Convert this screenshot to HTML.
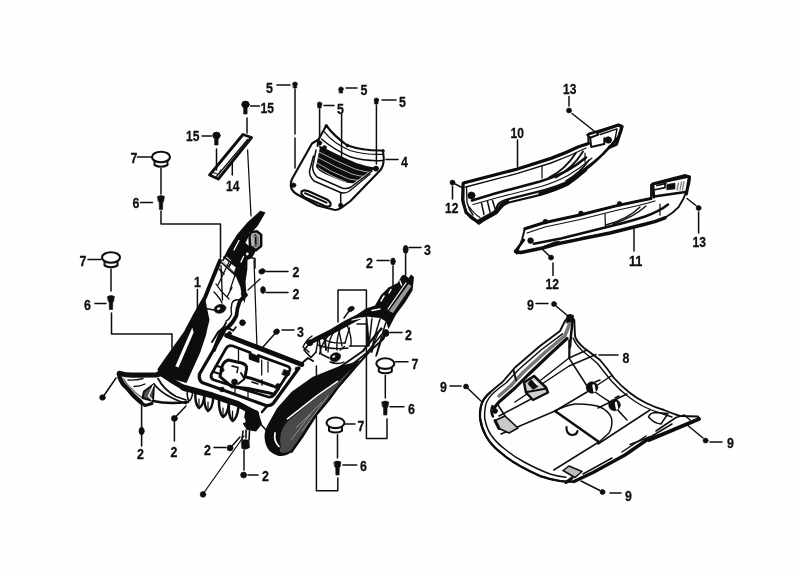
<!DOCTYPE html>
<html lang="en"><head><meta charset="utf-8"><title>Floor panel parts diagram</title>
<style>
html,body{margin:0;padding:0;background:#fdfefd;}
body{width:800px;height:576px;overflow:hidden;font-family:"Liberation Sans",sans-serif;}
svg{display:block}
svg path,svg line,svg polyline,svg polygon,svg ellipse,svg circle,svg rect{fill:none;stroke:#111;stroke-linecap:round;stroke-linejoin:round}
svg .f{fill:#0a0a0a;stroke:#0a0a0a;stroke-width:.6}
svg .w{fill:#fdfefd}
svg .g{fill:#8a8a8a;stroke:none}
svg .k{fill:#0a0a0a;stroke:none}
svg .wl{stroke:#fdfefd}
svg .gl{stroke:#777}
svg text{font-family:"Liberation Sans",sans-serif;font-weight:bold;fill:#111;stroke:#111;stroke-width:.3}
</style></head><body>
<svg width="800" height="576" viewBox="0 0 800 576">
<rect x="0" y="0" width="800" height="576" style="fill:#fdfefd;stroke:none"/>
<defs><filter id="soft" x="0" y="0" width="100%" height="100%" filterUnits="userSpaceOnUse"><feGaussianBlur stdDeviation="0.55"/></filter></defs>
<g filter="url(#soft)">
<g id="p01a">
<!-- main panel: left horn + wedge + wing -->
<!-- horn black band -->
<path d="M260.3 210.8 L265.5 212.5 L257.7 226 L249.5 234.7 L245.5 243 L249 246 L256 250.5 L252 258 L247.5 260 L247.3 269.4 L245.5 281.6 L246.4 293.8 L244.5 303 L242 297 L240.3 286.8 L235 274.6 L229 268 L222 260.5 L228.2 248.6 L236.9 234.7 L247.3 222.5 Z" class="k"/>
<path d="M234 250 L239 240.500 M250 232.500 L250.300 242 M241 262 L243.500 256.500 M240 228 L247 221" stroke-width="1.38" class="wl"/>
<path d="M223 261.500 L228 266 L231.500 261 L226.500 256.500 Z M229.500 267.500 L234 272 L236 267 L232 263 Z" style="fill:#fdfefd;stroke:none"/>
<!-- bracket -->
<path d="M250.8 232.3 L256.8 231.3 L261.2 234.7 L261.2 246 L256 250.3 L250 246 L249.500 236 Z" style="fill:#b4b4b4" stroke-width="2.50"/>
<path d="M255.500 235 L255.800 246" stroke-width="2.00"/>
<path d="M253 236 L258 236.5 L258.3 244.5 L254 246" stroke-width="1.50" class="gl"/>
<circle cx="247.3" cy="254" r="1.4" style="fill:#fdfefd;stroke:none"/>
<path d="M252 258 L255 258.5 L255 268" stroke-width="1.50"/>
<!-- ladder -->
<path d="M224 257 L238 268 M221.5 262.5 L236 276 M219 269 L224 274" stroke-width="1.62"/>
<path d="M229 262 L218 285 M236 272 L230 290" stroke-width="1.25"/>
<!-- left outer edge -->
<path d="M220 260.5 L212.5 278.8 L205 297.5 L195 315 L186 332 L170 354.5 L159.5 369.5" stroke-width="3.88"/>
<!-- inner thin curve from band bottom -->
<path d="M246 295 Q241 299 239.700 301.500 Q237 308 236.500 315.600 Q233 323 227 328 L221 332 L214 350" stroke-width="3.75"/>
<path d="M239 300 Q234 299 232 303 Q230.500 309 231.500 314 Q230 319 226 321" stroke-width="1.38"/>
<path d="M221 265.600 L222.500 300 M232 287.500 L227 297 M216 284 Q221 292 229 299 M214 292 Q220 298 222 303" stroke-width="1.38"/>
<circle cx="243.8" cy="293.8" r="2.6" class="f"/>
<circle cx="242.5" cy="322.5" r="2.8" class="f"/>
<!-- dark oval -->
<ellipse cx="220" cy="308.8" rx="6" ry="4.3" transform="rotate(-15 220 308.8)" class="f"/>
<ellipse cx="218.6" cy="308.6" rx="1.8" ry="1.2" transform="rotate(-20 218.6 308.6)" style="fill:#fdfefd;stroke:none"/>
<path d="M206 308.5 L214 310" stroke-width="1.50"/>
<!-- dark wedge -->
<path d="M207 308 L209.5 320 L207.5 328 L206 335 L200 353 L192.5 369.5 L186.5 383 L176 380 L167 378.5 L158 372 L159.5 369.5 L170 354.5 L186 332 L195 315 L205 297.5 Z" class="k"/>
<path d="M192.300 327.500 L193.600 332.500 L178.500 367.500 L175.300 366.300 Z" style="fill:#fdfefd;stroke:none"/>
<!-- wing -->
<path d="M119.500 373.500 Q127 375.500 134 375.200 L156.400 374.800 L168 372.500" stroke-width="5.25"/>
<circle cx="119.500" cy="374" r="2.600" class="f"/>
<path d="M119.500 377 Q122 384 127 388 Q133 396 140.600 402" stroke-width="4.50"/>
<path d="M123.500 378.500 Q127 385 131 388 Q136 394 142 397.500" stroke-width="1.50" class="gl"/>
<path d="M128 380 Q136 380.500 143 378.500 M134 386.500 Q140 386.500 145 384" stroke-width="1.38"/>
<path d="M154 384 L144 391.500 L142.500 398 L153 401 Z" style="fill:#555;stroke:#111" stroke-width="2.00"/>
<path d="M154 384 L148.500 396 L153 401" stroke-width="1.38" class="wl"/>
<path d="M140.600 402 L145 405.500 L152 403.500" stroke-width="3.00"/>
<path d="M158 378.500 Q164 390 176 396.500 L186 400" stroke-width="1.75"/>
<path d="M154 384 Q163 396 186 403.500" stroke-width="1.75"/>
<path d="M153 401 Q168 404.500 188 402" stroke-width="2.50"/>
<!-- thick line along wedge bottom -->
<path d="M160 372.500 L172.500 381 L185 388.500" stroke-width="5.50"/>

</g>
<g id="p01b">
<!-- main panel: tray -->
<!-- outer frame -->
<path d="M224 332 L199.500 374 Q198.500 380 202 382.500 L266 405.500 Q270.500 406.500 273.500 403 L299 368" stroke-width="3.25"/>
<!-- top rail -->
<path d="M226.700 335.500 L301.700 364.500" stroke-width="5.00"/>
<path d="M221 331 L226 327 L232 330 M301 364 L308 358 L313 361" stroke-width="2.00"/>
<!-- inner frame -->
<path d="M250 352.500 L233 346 Q228.500 344.500 226 348.500 L211.500 374 Q210 378.500 214 380 L268.500 397 Q272 397.500 274.500 394.500 L289.500 371 Q291 367.500 287.500 366.200 L258.300 355.600" stroke-width="2.75"/>
<path d="M250 352.500 L250 358.500 L258.300 361.500 L258.300 355.600" stroke-width="2.50"/>
<!-- bracket -->
<path d="M221.700 368 Q223 361.500 228.300 360 L241.700 363 Q246.500 364.500 246.700 368 L245 376.700 L251.700 378.500 L273 386 L278.500 388.500 L274 394" stroke-width="3.00"/>
<path d="M221.700 368 L220 376.700 L231.700 386.700 L248 388.500 L271.700 393.500" stroke-width="3.00"/>
<path d="M232 366 L238 367.500 L237 372.500 M252 382 L258 384 M262 385 L262 380" stroke-width="1.50"/>
<!-- thin verticals -->
<path d="M238.500 348 L238.500 363 M261.700 360 L261.700 375 M268 361.500 L268 372 M248 388 L248 398 M235 386 L235 394" stroke-width="1.25"/>
<!-- dots -->
<circle cx="234.5" cy="382" r="3" class="f"/>
<circle cx="242.5" cy="323" r="2.6" class="f"/>
<circle cx="310" cy="343" r="2.8" class="f"/>
<circle cx="287.5" cy="373.5" r="2.4" class="f"/>
<circle cx="278" cy="386" r="2.4" class="f"/>
<circle cx="222" cy="370" r="2" class="f"/>
<circle cx="222" cy="389.500" r="2.4" class="f"/>
<circle cx="229.5" cy="333.5" r="2" class="f"/>
<circle cx="297" cy="369" r="2" class="f"/>
<!-- lines from horn to tray corner -->
<path d="M226 322.500 Q224 328 218.500 331.500 L212 342" stroke-width="2.00"/>
<path d="M236 327 L233 331" stroke-width="1.62"/>

<path d="M250.500 353 L257.800 356 L257.800 361 L250.500 358 Z" class="f"/>
<path d="M284 369.500 L290 371.500 L287.500 376.500 L282 374.500 Z" class="f"/>
<path d="M217 366 L222 367.500 M214 372 L220 374" stroke-width="2.00"/>
<path d="M241 373 L244.500 379 L238 384" stroke-width="2.00"/>

</g>
<g id="p01c">
<!-- main panel: right horn -->
<!-- under-structure thin lines -->
<path d="M330 334 Q322 342 319.500 354 M339 331 Q341 340 342 346 M349.500 328 Q347 336 345 343 M367.500 325 L369 346 M381 328 Q374 340 372 352 M386 330 Q380 342 377 354 M357 324 L367 324" stroke-width="1.38"/>
<path d="M349.500 346 L366 346" stroke-width="1.38"/>
<path d="M312 336 Q306 340 303 347 L309 352 M318 340 L316 352 M324 337 L326 350" stroke-width="1.50"/>
<path d="M335 330 Q328 340 328 352 M341 327 Q336 338 337 350 M347 325 Q352 336 351 346 M322 338 Q330 344 345 343 M318 345 Q330 350 348 348" stroke-width="1.38"/>
<path d="M366.700 317 L368 346 M380 319 Q375 334 371 352 M386 322 Q381 338 376 356 M372 317 Q371 330 369.500 340" stroke-width="1.50"/>
<!-- black mass -->
<path d="M405 274.800 L402 275.500 L397.500 283 L388.500 287.500 L381 295 L375 305.500 L366 308.500 L357 314.500 L345 320.500 L330 329.500 L315 337 L307.500 341.500 L310 344.500 L318 341 L330 335.500 L345 327.500 L357 321 L366.700 316.500 L380 318 L386 321.500 L388.500 329 L396 314.500 L405 302.500 L412.500 290.500 L414 277 L411 274.500 L408.500 278 Z" class="k"/>
<!-- hatched strip -->
<path d="M408.500 284 L411.500 286 L393 313 L389 311 Z" style="fill:#999;stroke:none"/>
<path d="M406 283 L388 309" stroke-width="1.25" class="wl"/>
<!-- white nicks inside mass -->
<path d="M384 296 L381 301 M391 289.500 L389 293 M372 310.500 L380 309 M400 281 L401.500 285" stroke-width="1.50" class="wl"/>
<path d="M352 320 Q362 317 372 318" stroke-width="1.25" class="wl"/>
<!-- left end blob -->
<ellipse cx="309.500" cy="342.500" rx="3.200" ry="2.500" transform="rotate(-30 309.5 342.5)" class="f"/>
<!-- dark oval between horn and crescent -->
<ellipse cx="335.300" cy="357.200" rx="5.500" ry="4.300" transform="rotate(-25 335.3 357.2)" class="f"/>
<ellipse cx="333.800" cy="356.600" rx="1.700" ry="1" transform="rotate(-30 333.8 356.6)" style="fill:#fdfefd;stroke:none"/>
<path d="M310 343 L304 350 L311 357.500 L316 352 M319 338 L321 354 L329 358 M325 336 L326 350" stroke-width="1.62"/>
<path d="M340 350 L344.500 346.600 M330 362 Q338 365 344 362" stroke-width="1.38"/>

</g>
<g id="p01d">
<!-- main panel: right crescent (footboard side) -->
<!-- upper narrow band: 3 lines -->
<path d="M340 367 L363 351 L376.400 334 L381.600 328.700" stroke-width="2.12"/>
<path d="M350 366 L366 353.500 L381.600 334.800" stroke-width="1.62"/>
<path d="M339.600 385.400 L354 368.800 L370 351 L383.300 339 L386 332" stroke-width="2.12"/>
<!-- black crescent -->
<path d="M341 365.500 L312.500 377 L291.700 391.700 L277 408.300 L268.750 423 Q264 431 264.600 437.500 Q265 445 268.750 450 Q273 454.500 279 456 Q286 456.500 291.700 452 L302 437.500 L316.700 414.600 L329 400 L339.600 385.400 L354 368.800 L360 360 L350 363.500 Z" class="k"/>
<!-- gray hatched lower band -->
<path d="M289 420 L316.700 397.300 L337.500 382.800 L348 372 L352 369 L339 384.500 L328 398.800 L315.500 413.500 L301 436 L291 450.500 Q285 454.500 279.500 452 Q281.500 446 280 440 Q280 428 289 420 Z" style="fill:#484848;stroke:none"/>
<path d="M291.700 452 L302 437.500 L316.700 414.600 L329 400 L339.600 385.400 L354 368.800" stroke-width="1.88"/>
<path d="M296 428 L322 402 M302 431 L328 396 M291 440 L310 415" stroke-width="0.75" class="wl" style="opacity:.55"/>
<!-- white sliver -->
<path d="M287.500 418.800 L316.700 395.800 L337.500 381.300" stroke-width="1.62" class="wl"/>
<path d="M275 433 Q273.500 441 279 446.500" stroke-width="1.75" class="wl"/>

</g>
<g id="p01e">
<!-- main panel: band under tray + ribs -->
<path d="M183 387.500 L212.500 395.500 L237.500 403.800 L256 413.800" stroke-width="6.00"/>
<path d="M246 406.500 L258 411 L262 424 L256 431.500 L247 430 L243 424 Z" class="k"/>
<ellipse cx="243.500" cy="420" rx="1.800" ry="3" transform="rotate(-20 243.5 420)" style="fill:#fdfefd;stroke:none"/>
<!-- ribs -->
<path d="M195.500 391 Q194.500 404 199 408 Q203.500 406 204.500 394" stroke-width="2.50"/>
<path d="M204.500 394 Q203.500 407 208 411 Q212.500 409 213.500 396.500" stroke-width="2.50"/>
<path d="M219 399 Q218.500 412 223 417 Q227.500 415 229 403" stroke-width="2.50"/>
<path d="M229 403 Q228 416 232.500 421 Q237 419 238.500 407" stroke-width="2.50"/>
<path d="M188 388 Q186 396 189 401 Q192 400 193 390" stroke-width="1.62"/>
<path d="M199 399 L199 406 M208 402 L208 409 M223 408 L223 415 M232.5 411 L232.5 419" stroke-width="1.25"/>
<!-- white gap then crescent joint -->
<path d="M257 420 L266 430" stroke-width="1.50"/>
<path d="M262 412 L268 405" stroke-width="2.50"/>

<path d="M243 431 L242 440 M249.500 431 L249 440 M246 430 L246 438" stroke-width="1.62"/>

</g>
<g id="p04">
<!-- part 4: inlet cover -->
<path d="M326.3 125.5 Q334 136 347.5 145.5 Q364 151 383 150.5 L383.8 159 Q383.5 166 380.5 170 L350.5 201 L341.5 207.7 Q338 210.5 334 209.8 L317.5 205.5 L296.5 194 Q291.5 191 290.8 186 Q290.5 182.5 292 179 L312 143.5 L318.5 139.5 Z" class="w" stroke-width="2.12"/>
<!-- visor band arcs -->
<path d="M324.4 131.8 Q333 143 350 150.5 Q366 155 382.5 154.3" stroke-width="1.25"/>
<path d="M321.5 139 Q333 149 350 156.8 Q366 161.5 382.8 160.5" stroke-width="1.50"/>
<path d="M318.7 139.3 L317.5 146" stroke-width="2.00"/>
<!-- black mesh -->
<path d="M320 146.8 Q336 155 356 164 Q366 167.5 375.5 168.2 L366 174 L353.5 183.2 Q348 183.5 343.5 181.8 L325 174 Q318 170.5 316 166.8 Z" class="k"/>
<path d="M320 146.8 Q336 155 356 164 Q366 167.5 377 169" stroke-width="2.00"/>
<path d="M319 152 Q336 161 355 169 Q365 172 371 172.500 M318 157.500 Q334 166.500 352 174 Q360 176.500 366 176.500 M317 163 Q331 172 349 179 L359 180.500 M318.500 168 Q330 176 346 182" stroke-width="0.69" class="wl"/>
<!-- inner frames -->
<path d="M316 150 L312.6 167 Q312.6 172.5 317 177 L342 188 Q347 189.5 351 187 L372 171" stroke-width="1.50"/>
<path d="M313.5 156 L309.5 171 Q309.3 176.5 314 181 L340.5 192.5 Q345.5 194 349.5 191 L370 174" stroke-width="1.50"/>
<path d="M340.7 192.5 L340.7 205" stroke-width="1.50"/>
<!-- handle slot -->
<path d="M301.5 191.5 Q303 189.5 308 191 L327 199.5 Q331.5 202.5 330.5 205.5 Q329 207.3 325 206 L305 197.5 Q300.5 194.5 301.5 191.5 Z" stroke-width="2.12"/>
<path d="M305 193.2 L326.5 202.6" stroke-width="2.00"/>
<!-- dots -->
<circle cx="293.6" cy="185.2" r="2.3" class="f"/>
<circle cx="340.8" cy="205.6" r="2.3" class="f"/>
<circle cx="376" cy="168.6" r="2.6" class="f"/>
<circle cx="319.5" cy="143" r="2.3" class="f"/>
<circle cx="324.5" cy="147.5" r="2" class="f"/>
<circle cx="347.5" cy="145.5" r="1.5" class="f"/>
<circle cx="326.3" cy="126" r="1.4" class="f"/>
<circle cx="383" cy="150.8" r="1.3" class="f"/>

</g>
<g id="p08">
<!-- part 8: under cover -->
<path d="M569.5 316 L565 321 L560 331 L540 346 L515 367.500 L502.500 382 Q495 388 490 392.500 Q482.5 399 481 406 Q479.5 413 480.2 419 Q481.5 428 486 436 Q491 445 500 452 Q509 460 520 466 Q530 471.5 540 476 Q550 479.5 560 481 Q568 482 574 481.5 L593 472.5 L625 455 L649.5 438 L672 431 L699 418.6 L698 416.5 L680 416 Q672 413.5 664 410 Q654 407 646 403 Q637 398.5 630 393 Q621 386 614 378 Q607 368 600 360 Q591 353 584 348 Q576 341 575 336 L574.3 320 Z" class="w" stroke-width="1.88"/>
<!-- tip blob -->
<path d="M567 315.5 Q570 313 573.5 315.5 L574 322 L566.5 323 Z" class="f"/>
<!-- left band -->
<path d="M562.500 333.800 L541 350 L518.800 369.500 L506 383 Q499 388 494.500 392 Q487 398.500 485.500 406 Q484 414 485 420 Q487 429 491 435 Q497 443.500 506 450 Q514 456.500 524 462 Q538 469.500 550 474 Q558 476.500 566 477.300" stroke-width="1.50"/>
<path d="M569.500 324 L565 335.500 L545 352.500 L523 372.500 L511 385.500 L499 396" stroke-width="3.50" class="gl"/>
<path d="M567 338.500 L549 355 L528 375 L515 388 L499 402 L494 408" stroke-width="3.12"/>
<path d="M572.500 322.500 L571 335 L570 347" stroke-width="2.50"/>
<path d="M570 345 L569.500 358" stroke-width="1.50"/>
<path d="M513.500 370 L516 380" stroke-width="2.00"/>
<!-- heavy outer lower-left -->
<path d="M490 392.500 Q482.500 399 481 406 Q479.500 413 480.200 419 Q481.500 428 486 436 Q491 445 500 452 Q509 460 520 466 Q530 471.500 540 476 Q550 479.500 560 481 Q568 482 574 481.500" stroke-width="2.25"/>
<!-- bottom edge thick -->
<path d="M574 481.500 L593 472.500 L625 455 L649.500 438" stroke-width="3.50"/>
<path d="M583 474 L612 458 M622 452 L646 436" stroke-width="1.50"/>
<path d="M649 440 L699 419" stroke-width="4.00"/>
<path d="M656 431 L676 417.5 L684.5 415 L690 420" stroke-width="1.62"/>
<path d="M630 444.5 L652 436 L672 424" stroke-width="1.50"/>
<!-- right edge inner parallel -->
<path d="M573 338 Q576 345 582 350.500 Q590 357 597.500 363.500 Q604 372 611.500 381 Q619 389.500 627.500 396 Q635 402 643.500 406.500 Q652 410.500 661.500 413.500 L672 417" stroke-width="1.38"/>
<!-- right inner line -->
<path d="M569 340 L569 358 Q578 372 587 386 Q600 396 613 404 Q620 413 627 420" stroke-width="1.50"/>
<!-- cross lines -->
<path d="M541 380 L569 358 L587 350" stroke-width="1.50"/>
<path d="M515 402 L569 366 L596 354.500" stroke-width="1.50"/>
<path d="M499 416 L533 398" stroke-width="1.50"/>
<path d="M501 434 L555 411 L587 392 L611 376" stroke-width="1.50"/>
<path d="M598 408 L627 394" stroke-width="1.50"/>
<path d="M595 382 L600 380 M615 398 L619 396" stroke-width="1.50"/>
<path d="M598 444 L650 410" stroke-width="1.50"/>
<path d="M553.800 470 L598 442.500" stroke-width="1.50"/>
<!-- dome -->
<path d="M555 411 Q565 405.500 575 404 Q589 403.500 599 406.500 Q609 411 611.500 418 Q613 426 609 433 L599 442 Z" stroke-width="1.50"/>
<path d="M555 411 L599 442" stroke-width="2.50"/>
<path d="M566.500 427 Q566 433.500 571.500 435 Q577 435 577.500 431" stroke-width="2.12"/>
<!-- clip block -->
<path d="M524 382.500 L534 376 L546 387.500 L548 392.500 L533 400 L526 392.500 Z" style="fill:#d0d0d0" stroke-width="2.50"/>
<path d="M531 379.500 L538 386.500 L533 389.500 L528 384 Z" class="f"/>
<path d="M534.500 381.500 L537.500 384.500" stroke-width="1.75" class="wl"/>
<path d="M527 392 L546.500 388.500" stroke-width="2.00"/>
<!-- round clips -->
<circle cx="592" cy="387.500" r="5.800" class="f"/><path d="M593.500 385.500 L594.500 391" stroke-width="2.50" class="wl"/>
<circle cx="614.500" cy="405" r="5.800" class="f"/><path d="M616 403 L617 408.500" stroke-width="2.50" class="wl"/>
<!-- pads -->
<path d="M495 420.500 L505 416 L518 428 L509 433 L499 428.500 Z" stroke-width="1.62" style="fill:#c8c8c8"/><path d="M495 420.500 L499 428.500" stroke-width="3.00"/>
<path d="M492.500 406 Q490 411 493 416.500" stroke-width="2.50"/>
<circle cx="495" cy="411" r="2.500" class="f"/>
<path d="M498 405 L505 416" stroke-width="1.62"/>
<path d="M648.5 417 Q650 412.5 656 412.5 L668 413.5 L661 424 Q654 423.5 648.5 417 Z" stroke-width="1.50"/>
<path d="M563 470.5 L569 466 L582 471.5 L575 477.5 Z" stroke-width="1.50" style="fill:#bbb"/>
<path d="M566 482.5 L572 478" stroke-width="3.00"/>

</g>
<g id="p10">
<!-- part 10: left side cover -->
<path d="M463.5 183 L517.5 169 L551 158.4 Q566 153 578 147 L588.4 143.5 L588.4 133.6 L617.6 125.3 L622.3 127 Q621 134 616.5 139 Q610 147 603 154 Q594 162 585 168.5 Q576 176 567 182 Q556 187 544.5 190 L508.5 199 Q501 201 498 204.5 L495 211 L477 221 Q472 220 469 216 Q464 208 463.5 200 Z" class="w" stroke-width="2.00"/>
<!-- thick top edge -->
<path d="M463.5 183 L517.5 169 L551 158.4 Q566 153 578 147 L588.4 143.5" stroke-width="3.25"/>
<path d="M465.7 187 L517.5 173.4 L551 163 Q570 156 586 148" stroke-width="1.38"/>
<!-- lower band lines -->
<path d="M472 200.500 L495 193.500 L540 181.500 Q555 177 567 170.700 Q577 165 586 157.500" stroke-width="2.62"/>
<path d="M478.800 222.500 L482.500 220 L496 212.500 L500 207.500 Q503 203.500 508.500 201.500 L540 194 Q556 189.500 567 184 Q577 177 585 170" stroke-width="4.00"/>
<path d="M509.500 200.600 L538 193.600" stroke-width="1.12" class="wl"/>
<path d="M585 170 Q596 161.500 603 154 Q611 146 616.500 139" stroke-width="2.50"/>
<path d="M473 204.500 L498 197.500 L541 186.500 Q556 182 568 175.500 Q580 168.500 592 158" stroke-width="1.12"/>
<!-- arcs -->
<path d="M549 177.5 Q565 170 576 152.7" stroke-width="1.88"/>
<path d="M556 177.5 Q573 168 583 151.6" stroke-width="1.88"/>
<path d="M542 166 L542 178" stroke-width="1.25"/>
<path d="M566 181 Q581 172 589 160" stroke-width="1.62"/>
<path d="M585 153 L585 162" stroke-width="1.25"/>
<!-- mount block -->
<path d="M587.200 135 L596.300 132 L598.300 134.600 L590.200 137.700 Z" class="w" stroke-width="2.00"/>
<path d="M590.200 137.700 L591.200 147 L604.300 144 L604.300 138.200" stroke-width="2.00"/>
<path d="M598.300 132 L618.400 125 L622 126.600 L619.400 135 L616.400 144.200 L609.300 147.200" stroke-width="3.25"/>
<path d="M600.300 134.500 L617 128.800 L614.500 142" stroke-width="1.38"/>
<circle cx="608.300" cy="140" r="3.300" class="f"/>
<!-- left end details -->
<path d="M463 183.800 L462.500 200 L466 212.500 L478.800 223" stroke-width="3.00"/>
<path d="M466.500 187 L467 202.500 Q469 210 473 215" stroke-width="1.38"/>
<circle cx="471.500" cy="195.500" r="3.600" class="f"/>
<path d="M481.500 203 L484 214.500 M487.500 201.500 L490 212 M492.500 200.500 L495 208.500" stroke-width="1.50"/>
<path d="M469.500 207 Q474 214 480 217.500" stroke-width="1.25"/>

</g>
<g id="p11">
<!-- part 11: right side cover -->
<path d="M524.8 228.8 L544 222.7 L579.8 215 L618 205.4 L651 198.5 L651 184.8 L689.8 176.5 Q690 184 687 190 Q684 199 678.8 206.8 Q673 213 665 217.8 Q655 222 643 224.6 L610 233 L582.5 238.4 L555 242.5 Q547 245.5 541 248 L516.5 253.5 L522 239.8 Z" class="w" stroke-width="1.88"/>
<path d="M524.8 228.8 L544 222.7 L579.8 215 L618 205.4 L651 198.5" stroke-width="3.00"/>
<path d="M527 233 L545 227 L580 219.5 L618 210 Q640 205.5 655 201" stroke-width="1.25"/>
<path d="M533.800 243.800 L561 238.500 L583 233 L611 226 Q630 221.500 645 216.500 Q660 211 668 204.500" stroke-width="2.50"/>

<!-- mount block -->
<path d="M653.700 197 L652.700 184 L685.400 175.600 L689.400 177 L686.400 194" stroke-width="3.12"/>
<path d="M653.700 190 L665 187.700 L665 183.500 M657 185.500 L666 183.300" stroke-width="1.75"/>
<path d="M654 196.500 L685.400 192" stroke-width="2.75"/>
<path d="M667 184.500 L675 183 L675 189 L667 189.800 Z" class="f"/>
<path d="M678.500 183 L677 190 M681.500 182 L680 190 M684 181.500 L682.500 190" stroke-width="1.25" class="gl"/>
<!-- arcs -->
<path d="M606 225 Q628 219 640 207" stroke-width="1.38"/>
<path d="M613 224 Q634 217 646 206" stroke-width="1.38"/>
<path d="M605 214 L605.5 228 M660 204 L660 215" stroke-width="1.25"/>
<!-- knobs -->
<circle cx="545.4" cy="221.6" r="2.400" class="f"/><circle cx="581" cy="213.400" r="2.400" class="f"/><circle cx="619.600" cy="203.800" r="2.400" class="f"/>
<!-- left end -->
<circle cx="530.600" cy="240.600" r="2.900" class="f"/>
<path d="M515.500 251.500 L521 252.500 L542.500 248 L557.500 243.800 L582.500 238.500 L610 233 L643 224.800 Q655 222 665 217.800" stroke-width="3.50"/>
<path d="M523.800 240 L515.500 251" stroke-width="2.75"/>
<path d="M560 241 L580 236.800 M590 234.500 L606 231" stroke-width="1.00" class="wl"/>

</g>
<g id="p14">
<!-- part 14: bar -->
<path d="M243 134.5 L251.5 137.5 L218.3 179 L209.6 175 Z" class="w" stroke-width="2.88"/>
<path d="M247.6 139.5 L216.5 176.5" stroke-width="1.25"/>
<path d="M213 172.5 L218.5 174.5 L221 170" stroke-width="1.25"/>

</g>
<g id="leaders">
<path d="M137.5 157 L151 157" stroke-width="1.50"/>
<path d="M154.5 159 L154.5 165 Q161 168.5 167.5 165 L167.5 159" class="w" stroke-width="2.00"/><ellipse cx="161" cy="157" rx="9" ry="5.3" class="w" stroke-width="2.12"/>
<path d="M161 168.5 L161 194" stroke-width="1.50"/>
<path d="M157.6 196.5 Q161 194.5 164.4 196.5 L163.6 201.5 L162.8 202 L162.6 209.5 L159.4 209.5 L159.2 202 L158.4 201.5 Z" class="f"/>
<path d="M140.5 202.5 L152.5 202.5" stroke-width="1.50"/>
<path d="M161 211 L161 224 L220.5 224 L220.5 258" stroke-width="1.50"/>
<path d="M88 259.5 L101 259.5" stroke-width="1.50"/>
<path d="M104.5 259.5 L104.5 265.5 Q111 269.0 117.5 265.5 L117.5 259.5" class="w" stroke-width="2.00"/><ellipse cx="111" cy="257.5" rx="9" ry="5.3" class="w" stroke-width="2.12"/>
<path d="M111 269 L111 291" stroke-width="1.50"/>
<path d="M107.6 296.5 Q111 294.5 114.4 296.5 L113.6 301.5 L112.8 302 L112.6 309.5 L109.4 309.5 L109.2 302 L108.4 301.5 Z" class="f"/>
<path d="M95 303.6 L106 303.6" stroke-width="1.50"/>
<path d="M111.5 313 L111.5 334 L172 334 L172 350" stroke-width="1.50"/>
<ellipse cx="245.5" cy="104.5" rx="3.8" ry="3.42" class="f"/><rect x="243.9" y="104.5" width="3.2" height="9.5" class="f"/>
<path d="M250.5 106 L259.5 106" stroke-width="1.50"/>
<path d="M247 118 L247 133" stroke-width="1.50"/>
<path d="M247.6 150 L251 216" stroke-width="1.25"/>
<ellipse cx="216.5" cy="135.5" rx="3.8" ry="3.42" class="f"/><rect x="214.9" y="135.5" width="3.2" height="9.5" class="f"/>
<path d="M202 136 L211.5 136" stroke-width="1.50"/>
<path d="M216.5 149 L216.5 170" stroke-width="1.50"/>
<path d="M232.3 162 L232.3 175" stroke-width="1.50"/>
<path d="M277 85 L290 85" stroke-width="1.50"/>
<ellipse cx="295" cy="84" rx="2.3" ry="2.07" class="f"/><rect x="293.4" y="84" width="3.2" height="4" class="f"/>
<path d="M295 89 L295 134" stroke-width="1.50"/>
<path d="M295 138 L295 168" stroke-width="1.50"/>
<path d="M346 88 L357 88" stroke-width="1.50"/>
<ellipse cx="341" cy="89" rx="2.3" ry="2.07" class="f"/><rect x="339.4" y="89" width="3.2" height="4" class="f"/>
<path d="M341.6 114 L341.6 156" stroke-width="1.50"/>
<path d="M324 105.6 L334 105.6" stroke-width="1.50"/>
<ellipse cx="319.6" cy="104" rx="2.3" ry="2.07" class="f"/><rect x="318.0" y="104" width="3.2" height="4" class="f"/>
<path d="M319.6 109 L319.6 138" stroke-width="1.50"/>
<path d="M382 100 L396 100" stroke-width="1.50"/>
<ellipse cx="376.4" cy="100" rx="2.3" ry="2.07" class="f"/><rect x="374.79999999999995" y="100" width="3.2" height="4" class="f"/>
<path d="M376.4 105 L376.4 164" stroke-width="1.50"/>
<path d="M386 159.4 L398 159.4" stroke-width="1.50"/>
<path d="M569 96.5 L569 106" stroke-width="1.50"/>
<ellipse cx="569" cy="110.5" rx="2.5" ry="2.5" class="f" transform="rotate(0 569 110.5)"/>
<path d="M572 113.5 L596 132.5" stroke-width="1.50"/>
<path d="M517.5 140 L517.5 167" stroke-width="1.50"/>
<ellipse cx="452.5" cy="182.5" rx="2.5" ry="2.5" class="f" transform="rotate(0 452.5 182.5)"/>
<path d="M452.5 186 L452.5 199" stroke-width="1.50"/>
<path d="M455 184 L463 188" stroke-width="1.50"/>
<path d="M634 229 L634 251" stroke-width="1.50"/>
<ellipse cx="551" cy="257.6" rx="2.5" ry="2.5" class="f" transform="rotate(0 551 257.6)"/>
<path d="M553 263 L553 275.5" stroke-width="1.50"/>
<path d="M541 248 L549 255.5" stroke-width="1.50"/>
<ellipse cx="698.6" cy="208" rx="2.5" ry="2.5" class="f" transform="rotate(0 698.6 208)"/>
<path d="M698.6 212 L698.6 233" stroke-width="1.50"/>
<path d="M687 198.5 L696 205.5" stroke-width="1.50"/>
<path d="M536 303.6 L548 303.6" stroke-width="1.50"/>
<ellipse cx="554" cy="304" rx="2.5" ry="2.5" class="f" transform="rotate(0 554 304)"/>
<path d="M556 306 L568 316" stroke-width="1.50"/>
<path d="M599 355 L618 355" stroke-width="1.50"/>
<path d="M710 442 L722 442" stroke-width="1.50"/>
<ellipse cx="705.6" cy="440.6" rx="2.5" ry="2.5" class="f" transform="rotate(0 705.6 440.6)"/>
<path d="M686 424 L703 438" stroke-width="1.50"/>
<path d="M450 386 L461 386" stroke-width="1.50"/>
<ellipse cx="466" cy="386.5" rx="2.5" ry="2.5" class="f" transform="rotate(0 466 386.5)"/>
<path d="M468 388.5 L482 402" stroke-width="1.50"/>
<path d="M610 493 L621 493" stroke-width="1.50"/>
<ellipse cx="602.5" cy="492" rx="2.5" ry="2.5" class="f" transform="rotate(0 602.5 492)"/>
<path d="M581 481 L600 490.5" stroke-width="1.50"/>
<path d="M197.4 289.5 L197.4 315" stroke-width="1.50"/>
<ellipse cx="262" cy="271.4" rx="3.2" ry="2.6" class="f" transform="rotate(-20 262 271.4)"/>
<path d="M266 271.4 L288 271.4" stroke-width="1.50"/>
<ellipse cx="263" cy="290" rx="2.4" ry="3.4" class="f" transform="rotate(0 263 290)"/>
<path d="M266 292.4 L288 292.4" stroke-width="1.50"/>
<path d="M254 260 L257 348" stroke-width="1.25"/>
<path d="M260 279 L248 290" stroke-width="1.25"/>
<path d="M282 330 L294 330" stroke-width="1.50"/>
<ellipse cx="276.5" cy="331.7" rx="3" ry="2.6" class="f" transform="rotate(-30 276.5 331.7)"/>
<path d="M275 333.5 L263 347" stroke-width="1.50"/>
<path d="M377 260.4 L389 260.4" stroke-width="1.50"/>
<ellipse cx="393" cy="261.4" rx="2.3" ry="3.5" class="f" transform="rotate(0 393 261.4)"/>
<path d="M393 266 L393 286" stroke-width="1.50"/>
<path d="M409 247.4 L421 247.4" stroke-width="1.50"/>
<ellipse cx="405.6" cy="249.4" rx="2.5" ry="4" class="f" transform="rotate(0 405.6 249.4)"/>
<path d="M405.6 254 L405.6 275" stroke-width="1.50"/>
<ellipse cx="351" cy="309" rx="3.4" ry="2.4" class="f" transform="rotate(-30 351 309)"/>
<path d="M349 311 L344 318" stroke-width="1.50"/>
<path d="M390 332.6 L402 332.6" stroke-width="1.50"/>
<ellipse cx="386" cy="333" rx="3" ry="3.5" class="f" transform="rotate(0 386 333)"/>
<path d="M378.8 365.6 L378.8 371.6 Q385.3 375.1 391.8 371.6 L391.8 365.6" class="w" stroke-width="2.00"/><ellipse cx="385.3" cy="363.6" rx="9" ry="5.3" class="w" stroke-width="2.12"/>
<path d="M395.5 361.7 L408 361.7" stroke-width="1.50"/>
<path d="M385.3 375.5 L385.3 398" stroke-width="1.50"/>
<path d="M381.90000000000003 402.0 Q385.3 400.0 388.7 402.0 L387.90000000000003 407.0 L387.1 407.5 L386.90000000000003 415.0 L383.7 415.0 L383.5 407.5 L382.7 407.0 Z" class="f"/>
<path d="M390 406.7 L404 406.7" stroke-width="1.50"/>
<path d="M387 419 L387 438.6 L366.4 438.6 L366.4 290 L338 290 L338 322" stroke-width="1.50"/>
<path d="M329.0 424.8 L329.0 430.8 Q335.5 434.3 342.0 430.8 L342.0 424.8" class="w" stroke-width="2.00"/><ellipse cx="335.5" cy="422.8" rx="9" ry="5.3" class="w" stroke-width="2.12"/>
<path d="M345.5 424 L355 424" stroke-width="1.50"/>
<path d="M337.5 434.8 L337.5 458" stroke-width="1.50"/>
<path d="M334.1 462.0 Q337.5 460.0 340.9 462.0 L340.1 467.0 L339.3 467.5 L339.1 475.0 L335.9 475.0 L335.7 467.5 L334.9 467.0 Z" class="f"/>
<path d="M342.8 465 L356.7 465" stroke-width="1.50"/>
<path d="M337.8 478 L337.8 490.8 L316.4 490.8 L316.4 416" stroke-width="1.50"/>
<path d="M316.4 366 L316.4 376" stroke-width="1.50"/>
<path d="M141.6 404 L141.6 446" stroke-width="1.50"/>
<ellipse cx="141.6" cy="431" rx="2.6" ry="3.8" class="f" transform="rotate(0 141.6 431)"/>
<ellipse cx="174.4" cy="418.4" rx="3" ry="3" class="f" transform="rotate(0 174.4 418.4)"/>
<path d="M186 406 L176 416.5" stroke-width="1.50"/>
<path d="M174.4 422 L174.4 441" stroke-width="1.50"/>
<path d="M214 447.6 L226 447.6" stroke-width="1.50"/>
<ellipse cx="230" cy="448" rx="3" ry="3" class="f" transform="rotate(0 230 448)"/>
<path d="M232 446 L240 437" stroke-width="1.50"/>
<path d="M244 436 L203 494" stroke-width="1.25"/>
<ellipse cx="203" cy="494.4" rx="2.8" ry="2.8" class="f" transform="rotate(0 203 494.4)"/>
<path d="M241.500 441 Q245 438.500 249 440.500 L249.500 447.500 Q246 450.500 242 448.500 Z" class="f"/>
<path d="M244 450 L244 470" stroke-width="1.50"/>
<ellipse cx="243.6" cy="475" rx="3" ry="3" class="f" transform="rotate(0 243.6 475)"/>
<path d="M248 475 L258 475" stroke-width="1.50"/>
<ellipse cx="102.5" cy="397.5" rx="2.8" ry="2.8" class="f" transform="rotate(0 102.5 397.5)"/>
<path d="M116 378 L104 395.5" stroke-width="1.50"/>
</g>
<g id="labels">
<text x="130.5" y="163" textLength="6.9" lengthAdjust="spacingAndGlyphs" font-size="15.5">7</text>
<text x="132.5" y="208" textLength="6.9" lengthAdjust="spacingAndGlyphs" font-size="15.5">6</text>
<text x="79.5" y="265.5" textLength="6.9" lengthAdjust="spacingAndGlyphs" font-size="15.5">7</text>
<text x="84" y="309.5" textLength="6.9" lengthAdjust="spacingAndGlyphs" font-size="15.5">6</text>
<text x="260.5" y="113" textLength="13.4" lengthAdjust="spacingAndGlyphs" font-size="15.5">15</text>
<text x="186" y="141" textLength="13.4" lengthAdjust="spacingAndGlyphs" font-size="15.5">15</text>
<text x="226" y="191" textLength="13.4" lengthAdjust="spacingAndGlyphs" font-size="15.5">14</text>
<text x="266" y="93" textLength="6.9" lengthAdjust="spacingAndGlyphs" font-size="15.5">5</text>
<text x="360.5" y="95" textLength="6.9" lengthAdjust="spacingAndGlyphs" font-size="15.5">5</text>
<text x="337" y="114" textLength="6.9" lengthAdjust="spacingAndGlyphs" font-size="15.5">5</text>
<text x="399" y="107" textLength="6.9" lengthAdjust="spacingAndGlyphs" font-size="15.5">5</text>
<text x="401" y="167" textLength="6.9" lengthAdjust="spacingAndGlyphs" font-size="15.5">4</text>
<text x="563" y="94" textLength="13.4" lengthAdjust="spacingAndGlyphs" font-size="15.5">13</text>
<text x="510.5" y="137.5" textLength="13.4" lengthAdjust="spacingAndGlyphs" font-size="15.5">10</text>
<text x="445" y="212.5" textLength="13.4" lengthAdjust="spacingAndGlyphs" font-size="15.5">12</text>
<text x="629" y="266" textLength="13.4" lengthAdjust="spacingAndGlyphs" font-size="15.5">11</text>
<text x="545.5" y="289" textLength="13.4" lengthAdjust="spacingAndGlyphs" font-size="15.5">12</text>
<text x="692.5" y="246.6" textLength="13.4" lengthAdjust="spacingAndGlyphs" font-size="15.5">13</text>
<text x="527" y="310" textLength="6.9" lengthAdjust="spacingAndGlyphs" font-size="15.5">9</text>
<text x="622.6" y="363" textLength="6.9" lengthAdjust="spacingAndGlyphs" font-size="15.5">8</text>
<text x="727" y="448" textLength="6.9" lengthAdjust="spacingAndGlyphs" font-size="15.5">9</text>
<text x="440" y="392" textLength="6.9" lengthAdjust="spacingAndGlyphs" font-size="15.5">9</text>
<text x="625" y="500.5" textLength="6.9" lengthAdjust="spacingAndGlyphs" font-size="15.5">9</text>
<text x="194" y="287.3" textLength="6.9" lengthAdjust="spacingAndGlyphs" font-size="15.5">1</text>
<text x="292.4" y="277" textLength="6.9" lengthAdjust="spacingAndGlyphs" font-size="15.5">2</text>
<text x="292.4" y="299.4" textLength="6.9" lengthAdjust="spacingAndGlyphs" font-size="15.5">2</text>
<text x="297" y="337" textLength="6.9" lengthAdjust="spacingAndGlyphs" font-size="15.5">3</text>
<text x="366" y="268" textLength="6.9" lengthAdjust="spacingAndGlyphs" font-size="15.5">2</text>
<text x="424" y="255" textLength="6.9" lengthAdjust="spacingAndGlyphs" font-size="15.5">3</text>
<text x="405" y="340" textLength="6.9" lengthAdjust="spacingAndGlyphs" font-size="15.5">2</text>
<text x="411.4" y="369" textLength="6.9" lengthAdjust="spacingAndGlyphs" font-size="15.5">7</text>
<text x="408" y="413.6" textLength="6.9" lengthAdjust="spacingAndGlyphs" font-size="15.5">6</text>
<text x="357.5" y="431" textLength="6.9" lengthAdjust="spacingAndGlyphs" font-size="15.5">7</text>
<text x="360" y="470.5" textLength="6.9" lengthAdjust="spacingAndGlyphs" font-size="15.5">6</text>
<text x="137" y="459.4" textLength="6.9" lengthAdjust="spacingAndGlyphs" font-size="15.5">2</text>
<text x="170.6" y="457" textLength="6.9" lengthAdjust="spacingAndGlyphs" font-size="15.5">2</text>
<text x="204" y="455" textLength="6.9" lengthAdjust="spacingAndGlyphs" font-size="15.5">2</text>
<text x="262" y="481" textLength="6.9" lengthAdjust="spacingAndGlyphs" font-size="15.5">2</text>
</g>
</g>
</svg>
</body></html>
